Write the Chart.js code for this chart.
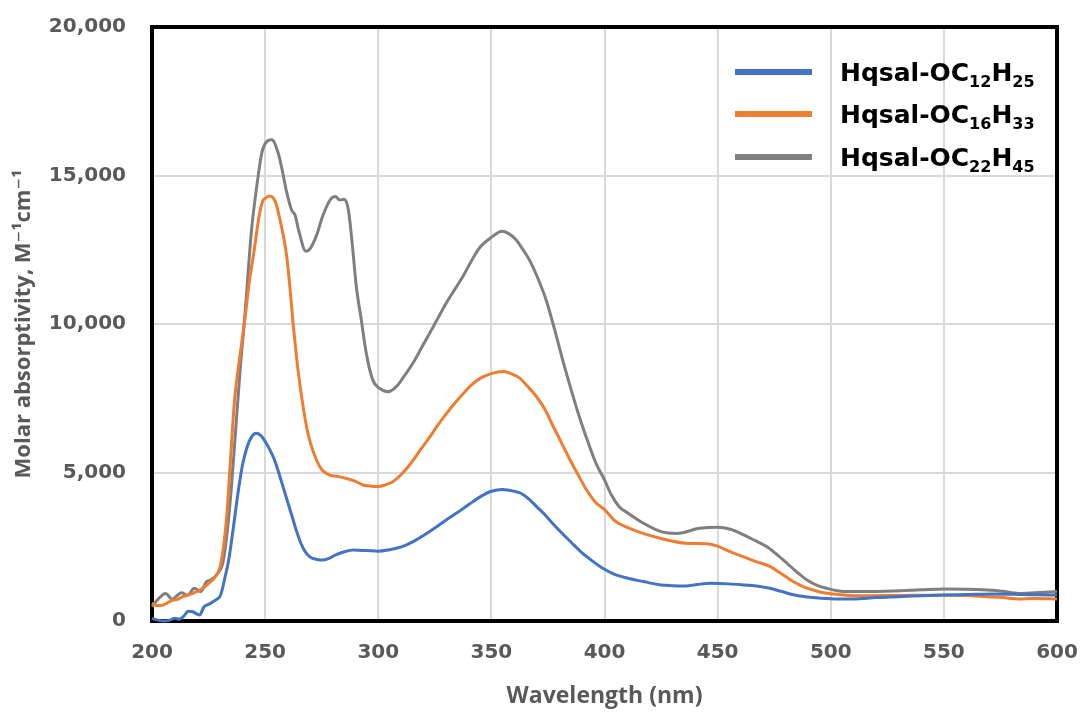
<!DOCTYPE html>
<html>
<head>
<meta charset="utf-8">
<script src="https://cdn.jsdelivr.net/npm/chart.js@4.4.1/dist/chart.umd.min.js"></script>
<style>
  html, body { margin: 0; padding: 0; background: #ffffff; }
  #wrap { width: 1081px; height: 713px; position: relative; }
</style>
</head>
<body>
<div id="wrap"><canvas id="chart"></canvas></div>
<script>
// Datos (longitud de onda en nm, absortividad molar en M-1 cm-1)
const wl12 = [200, 203, 205, 208, 210, 212, 214, 216, 218, 220, 221, 223, 225, 227, 229, 230, 231, 232, 234, 236, 238, 240, 242, 244, 246, 248, 250, 252, 254, 256, 258, 260, 262, 264, 266, 268, 270, 273, 275, 278, 281, 285, 289, 295, 300, 305, 308, 312, 316, 320, 325, 330, 335, 340, 345, 350, 355, 360, 363, 367, 370, 374, 377, 381, 385, 390, 395, 400, 405, 410, 415, 419, 425, 430, 436, 441, 447, 455, 462, 468, 473, 478, 484, 492, 500, 510, 520, 530, 540, 550, 560, 572, 585, 590, 599, 600];
const eps12 = [90, 20, 0, 30, 90, 60, 160, 330, 310, 230, 200, 480, 560, 650, 750, 820, 1050, 1380, 2100, 3170, 4300, 5250, 5850, 6200, 6320, 6250, 6050, 5780, 5450, 5000, 4500, 4000, 3500, 3000, 2580, 2300, 2150, 2070, 2050, 2100, 2220, 2330, 2390, 2370, 2350, 2400, 2450, 2550, 2700, 2880, 3130, 3400, 3650, 3920, 4180, 4370, 4430, 4370, 4300, 4080, 3850, 3550, 3290, 2970, 2670, 2300, 2000, 1740, 1550, 1450, 1360, 1300, 1210, 1190, 1180, 1230, 1270, 1250, 1210, 1170, 1100, 1000, 875, 790, 750, 740, 790, 820, 850, 875, 890, 910, 890, 880, 875, 880];

const wl16 = [200, 202, 205, 207, 209, 211, 213.5, 216, 218, 220, 222.5, 225, 228, 230.5, 233, 234.5, 236.5, 239, 241, 243, 245, 247.5, 249, 250, 252, 254.5, 256.6, 259.5, 261, 262.5, 264, 265.5, 268.3, 270, 272.7, 275, 278.5, 282, 286, 290, 293.3, 297, 300, 303, 306.6, 311, 315.5, 319, 322.8, 326, 330.2, 334, 337.6, 341, 345, 350, 355.3, 359, 362.7, 366, 370, 374, 377.4, 381, 384.8, 388.5, 392.1, 396, 400, 405, 410, 417, 425, 436, 445, 450, 455, 461.5, 467, 473.3, 478, 483.6, 488, 492.4, 496, 501.3, 507, 513, 530, 550, 560, 569, 576, 583, 590, 600];
const eps16 = [600, 520, 540, 620, 700, 720, 820, 870, 930, 1000, 1100, 1270, 1490, 1950, 3500, 5200, 7440, 9000, 10130, 11400, 12400, 13700, 14150, 14230, 14310, 14120, 13500, 12300, 11200, 9900, 8800, 7890, 6540, 6000, 5420, 5100, 4910, 4870, 4800, 4700, 4580, 4540, 4530, 4580, 4700, 5000, 5420, 5800, 6200, 6560, 6990, 7350, 7660, 7930, 8170, 8330, 8400, 8320, 8170, 7900, 7550, 7080, 6540, 6000, 5420, 4900, 4410, 4000, 3750, 3350, 3150, 2950, 2780, 2620, 2600, 2520, 2350, 2160, 2000, 1830, 1600, 1320, 1150, 1040, 960, 910, 870, 850, 860, 870, 860, 820, 790, 740, 760, 740];

const wl22 = [200, 203, 206, 209, 211, 213, 215.7, 218.7, 221.6, 224, 226, 229, 231.3, 232.8, 235, 237.3, 239, 241, 244, 246.3, 248.5, 250.7, 252.9, 255.8, 257.5, 259.5, 261.7, 263.2, 265, 268, 270, 272.8, 275.3, 278.7, 281, 283, 285, 286.8, 288.5, 290.3, 292.5, 294.7, 297.6, 300.6, 304.3, 308, 311.5, 315.3, 319, 322.7, 326.4, 330, 333.7, 337.4, 341, 344.7, 350.6, 354.7, 357.5, 360.9, 364, 366.8, 370.5, 374.2, 378, 381.5, 385.2, 388.9, 392.6, 396.3, 400, 403, 406.6, 410, 417, 425, 432, 442, 450, 456, 461.5, 466, 471.8, 476, 480.7, 485, 489.5, 494, 498.3, 503, 507, 515, 527.7, 540, 550, 560, 569, 576, 583, 590, 600];
const eps22 = [480, 760, 930, 730, 850, 950, 870, 1100, 990, 1320, 1380, 1600, 1950, 2720, 4410, 6770, 8500, 10240, 13170, 14630, 15750, 16140, 16200, 15750, 15200, 14450, 13840, 13670, 13100, 12450, 12550, 13000, 13600, 14175, 14290, 14175, 14200, 13840, 12700, 11270, 10140, 9020, 8110, 7830, 7720, 7890, 8250, 8680, 9180, 9690, 10200, 10700, 11150, 11600, 12100, 12560, 12950, 13120, 13050, 12840, 12500, 12160, 11550, 10810, 9800, 8790, 7800, 6870, 6050, 5300, 4750, 4250, 3840, 3650, 3300, 3010, 2950, 3120, 3160, 3080, 2900, 2730, 2500, 2250, 1940, 1650, 1380, 1200, 1100, 1020, 990, 990, 1010, 1050, 1080, 1070, 1040, 1000, 930, 950, 990];

const seriesLabels = ['Hqsal-OC₁₂H₂₅', 'Hqsal-OC₁₆H₃₃', 'Hqsal-OC₂₂H₄₅'];
const seriesColors = ['#4472C4', '#ED7D31', '#7F7F7F'];

const textGray = '#595959';
const gridGray = '#d9d9d9';

function toPoints(xs, ys) {
    return xs.map((x, i) => ({ x: x, y: ys[i] }));
}

// Marco negro alrededor del área de trazado
const framePlugin = {
    id: 'frame',
    beforeDatasetsDraw(chart) {
        const { ctx, chartArea: a } = chart;
        ctx.save();
        ctx.strokeStyle = '#000000';
        ctx.lineWidth = 4;
        ctx.strokeRect(a.left, a.top, a.right - a.left, a.bottom - a.top);
        ctx.restore();
    }
};

// Leyenda propia para poder dibujar los subíndices
const subLegendPlugin = {
    id: 'subLegend',
    afterDraw(chart) {
        const { ctx } = chart;
        const subDigits = '₀₁₂₃₄₅₆₇₈₉';
        const rows = [72, 114, 157];
        ctx.save();
        chart.data.datasets.forEach((ds, i) => {
            const y = rows[i];
            ctx.strokeStyle = ds.borderColor;
            ctx.lineWidth = 6;
            ctx.beginPath();
            ctx.moveTo(735, y);
            ctx.lineTo(812, y);
            ctx.stroke();

            let x = 840;
            ctx.fillStyle = '#000000';
            ctx.textAlign = 'left';
            ctx.textBaseline = 'alphabetic';
            for (const ch of ds.label) {
                const k = subDigits.indexOf(ch);
                if (k >= 0) {
                    ctx.font = 'bold 16px "DejaVu Sans"';
                    ctx.fillText(String(k), x, y + 15);
                    x += ctx.measureText(String(k)).width;
                } else {
                    ctx.font = 'bold 25px "DejaVu Sans"';
                    ctx.fillText(ch, x, y + 9);
                    x += ctx.measureText(ch).width;
                }
            }
        });
        ctx.restore();
    }
};

const ctx = document.getElementById('chart').getContext('2d');
new Chart(ctx, {
    type: 'line',
    data: {
        datasets: [
            { label: seriesLabels[0], data: toPoints(wl12, eps12), borderColor: seriesColors[0], backgroundColor: seriesColors[0] },
            { label: seriesLabels[1], data: toPoints(wl16, eps16), borderColor: seriesColors[1], backgroundColor: seriesColors[1] },
            { label: seriesLabels[2], data: toPoints(wl22, eps22), borderColor: seriesColors[2], backgroundColor: seriesColors[2] }
        ].map(ds => Object.assign(ds, { borderWidth: 3, pointRadius: 0, fill: false, cubicInterpolationMode: 'monotone', clip: 4 }))
    },
    options: {
        responsive: true,
        maintainAspectRatio: false,
        animation: false,
        layout: { padding: { top: 27, right: 24, left: 0, bottom: 0 } },
        scales: {
            x: {
                type: 'linear',
                min: 200,
                max: 600,
                afterFit: scale => {
                    scale.height = 92;
                    scale.paddingLeft = 0;
                    scale.paddingRight = 0;
                },
                ticks: {
                    stepSize: 50,
                    padding: 20,
                    color: textGray,
                    font: { family: '"DejaVu Sans"', size: 20, weight: 'bold' }
                },
                grid: { color: gridGray, lineWidth: 2, drawTicks: false },
                border: { display: false },
                title: {
                    display: true,
                    text: 'Wavelength (nm)',
                    color: textGray,
                    padding: { top: 0, bottom: 3 },
                    font: { family: '"Open Sans"', size: 23, weight: 'bold' }
                }
            },
            y: {
                min: 0,
                max: 20000,
                afterFit: scale => {
                    scale.width = 152;
                    scale.paddingTop = 0;
                    scale.paddingBottom = 0;
                },
                ticks: {
                    stepSize: 5000,
                    padding: 26,
                    color: textGray,
                    font: { family: '"DejaVu Sans"', size: 20, weight: 'bold' }
                },
                grid: { color: gridGray, lineWidth: 2, drawTicks: false },
                border: { display: false },
                title: {
                    display: true,
                    text: 'Molar absorptivity, M⁻¹cm⁻¹',
                    color: textGray,
                    padding: { top: 11, bottom: 0 },
                    font: { family: '"Open Sans", "DejaVu Sans"', size: 22, weight: 'bold' }
                }
            }
        },
        plugins: {
            legend: { display: false },
            tooltip: { enabled: false }
        }
    },
    plugins: [framePlugin, subLegendPlugin]
});
</script>
</body>
</html>
